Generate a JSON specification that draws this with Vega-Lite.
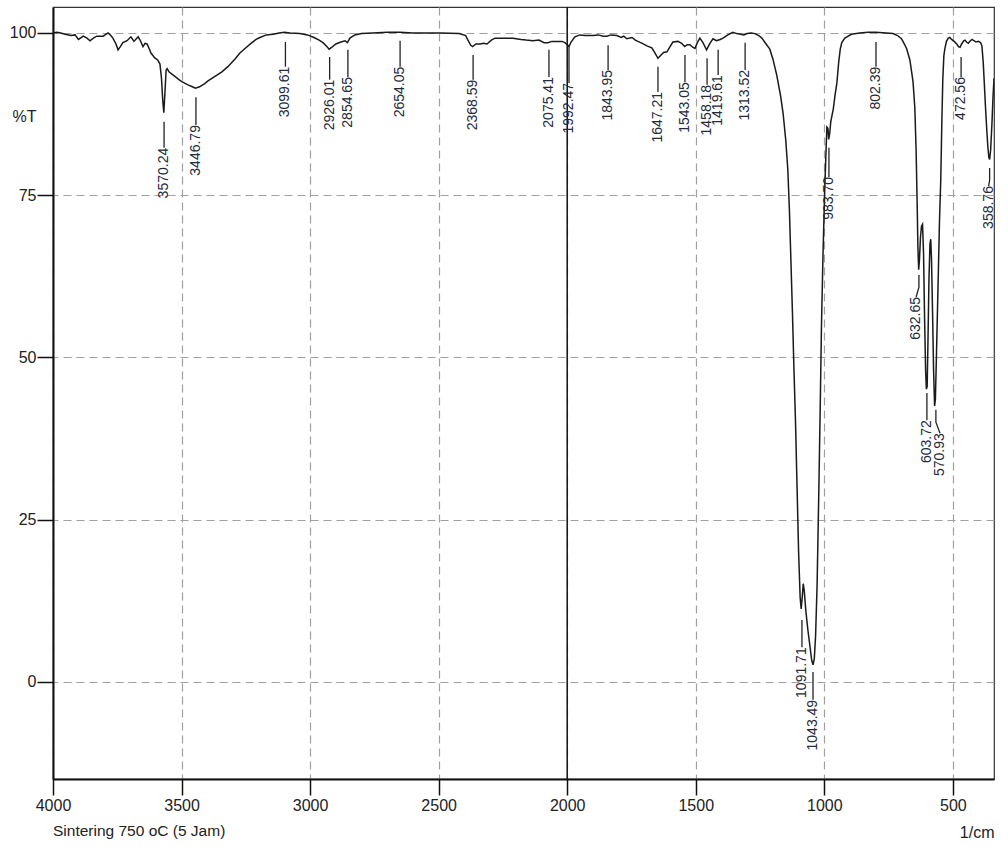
{
  "$schema": "https://vega.github.io/schema/vega-lite/v6.json",
  "width": 941,
  "height": 772,
  "autosize": "none",
  "padding": {"left": 53, "top": 7, "right": 14, "bottom": 68},
  "background": "white",
  "config": {
    "view": {"stroke": "#333333", "strokeWidth": 1.2},
    "font": "Liberation Sans"
  },
  "title": {
    "text": "Sintering 750 oC (5 Jam)",
    "orient": "bottom",
    "anchor": "start",
    "frame": "group",
    "offset": -16,
    "font": "Liberation Sans, Arial, sans-serif",
    "fontSize": 15.5,
    "fontWeight": "normal",
    "color": "#222222"
  },
  "datasets": {
    "spectrum": [
      {"wn":4000,"T":100.0},{"wn":3985,"T":100.1},{"wn":3970,"T":100.0},{"wn":3953,"T":99.8},{"wn":3930,"T":99.6},{"wn":3914,"T":99.7},{"wn":3901,"T":99.0},{"wn":3882,"T":99.5},{"wn":3868,"T":99.2},{"wn":3856,"T":98.8},{"wn":3843,"T":99.2},{"wn":3830,"T":99.5},{"wn":3805,"T":99.5},{"wn":3786,"T":100.0},{"wn":3775,"T":99.6},{"wn":3767,"T":99.2},{"wn":3755,"T":98.3},{"wn":3747,"T":97.4},{"wn":3738,"T":97.9},{"wn":3728,"T":98.5},{"wn":3712,"T":98.8},{"wn":3697,"T":99.4},{"wn":3685,"T":98.7},{"wn":3669,"T":99.4},{"wn":3660,"T":98.8},{"wn":3650,"T":97.9},{"wn":3642,"T":98.4},{"wn":3634,"T":98.3},{"wn":3625,"T":97.5},{"wn":3619,"T":96.9},{"wn":3605,"T":96.2},{"wn":3592,"T":95.8},{"wn":3584,"T":95.2},{"wn":3578,"T":93.0},{"wn":3573,"T":89.5},{"wn":3569,"T":87.7},{"wn":3565,"T":90.5},{"wn":3560,"T":94.3},{"wn":3556,"T":94.5},{"wn":3549,"T":94.0},{"wn":3526,"T":93.3},{"wn":3510,"T":92.8},{"wn":3499,"T":92.5},{"wn":3475,"T":92.0},{"wn":3458,"T":91.7},{"wn":3446,"T":91.5},{"wn":3430,"T":91.7},{"wn":3410,"T":92.2},{"wn":3397,"T":92.6},{"wn":3370,"T":93.3},{"wn":3343,"T":94.0},{"wn":3320,"T":94.8},{"wn":3292,"T":96.0},{"wn":3273,"T":96.9},{"wn":3253,"T":97.6},{"wn":3230,"T":98.4},{"wn":3210,"T":99.0},{"wn":3195,"T":99.3},{"wn":3170,"T":99.7},{"wn":3144,"T":99.8},{"wn":3120,"T":100.0},{"wn":3100,"T":100.1},{"wn":3078,"T":100.0},{"wn":3040,"T":99.9},{"wn":3010,"T":99.7},{"wn":2985,"T":99.3},{"wn":2965,"T":98.9},{"wn":2950,"T":98.5},{"wn":2935,"T":97.9},{"wn":2926,"T":97.5},{"wn":2915,"T":97.8},{"wn":2900,"T":98.3},{"wn":2880,"T":98.6},{"wn":2864,"T":98.8},{"wn":2855,"T":98.5},{"wn":2845,"T":99.2},{"wn":2826,"T":99.7},{"wn":2800,"T":99.9},{"wn":2756,"T":100.0},{"wn":2700,"T":100.1},{"wn":2651,"T":100.1},{"wn":2600,"T":100.0},{"wn":2550,"T":100.0},{"wn":2495,"T":100.0},{"wn":2420,"T":99.9},{"wn":2395,"T":99.6},{"wn":2385,"T":98.8},{"wn":2375,"T":98.1},{"wn":2368,"T":97.9},{"wn":2355,"T":98.3},{"wn":2340,"T":98.3},{"wn":2325,"T":98.4},{"wn":2312,"T":98.3},{"wn":2295,"T":98.9},{"wn":2281,"T":99.2},{"wn":2250,"T":99.2},{"wn":2211,"T":99.2},{"wn":2180,"T":99.0},{"wn":2160,"T":98.9},{"wn":2133,"T":98.8},{"wn":2110,"T":98.9},{"wn":2090,"T":98.5},{"wn":2075,"T":98.5},{"wn":2060,"T":98.7},{"wn":2040,"T":98.7},{"wn":2020,"T":98.7},{"wn":2009,"T":98.5},{"wn":2000,"T":98.2},{"wn":1993,"T":97.9},{"wn":1985,"T":98.6},{"wn":1970,"T":99.4},{"wn":1951,"T":99.7},{"wn":1930,"T":99.6},{"wn":1900,"T":99.6},{"wn":1880,"T":99.7},{"wn":1860,"T":99.5},{"wn":1846,"T":99.5},{"wn":1830,"T":99.7},{"wn":1807,"T":99.6},{"wn":1790,"T":99.3},{"wn":1780,"T":99.5},{"wn":1768,"T":99.1},{"wn":1748,"T":99.3},{"wn":1735,"T":98.9},{"wn":1725,"T":98.7},{"wn":1708,"T":98.4},{"wn":1690,"T":98.0},{"wn":1671,"T":97.7},{"wn":1660,"T":97.0},{"wn":1647,"T":96.1},{"wn":1635,"T":96.6},{"wn":1625,"T":97.0},{"wn":1612,"T":97.1},{"wn":1600,"T":97.9},{"wn":1589,"T":98.6},{"wn":1569,"T":98.7},{"wn":1555,"T":98.4},{"wn":1543,"T":97.9},{"wn":1533,"T":98.2},{"wn":1523,"T":98.2},{"wn":1512,"T":97.8},{"wn":1503,"T":97.6},{"wn":1494,"T":98.5},{"wn":1484,"T":99.2},{"wn":1472,"T":98.5},{"wn":1458,"T":97.4},{"wn":1445,"T":98.4},{"wn":1433,"T":99.1},{"wn":1420,"T":98.8},{"wn":1405,"T":99.0},{"wn":1394,"T":99.2},{"wn":1375,"T":99.7},{"wn":1356,"T":100.1},{"wn":1340,"T":99.9},{"wn":1325,"T":99.8},{"wn":1313,"T":99.7},{"wn":1300,"T":99.9},{"wn":1285,"T":100.0},{"wn":1270,"T":99.9},{"wn":1255,"T":99.6},{"wn":1243,"T":99.2},{"wn":1230,"T":98.5},{"wn":1212,"T":97.5},{"wn":1200,"T":96.0},{"wn":1185,"T":93.5},{"wn":1170,"T":90.3},{"wn":1160,"T":87.5},{"wn":1150,"T":83.5},{"wn":1142,"T":79.0},{"wn":1136,"T":73.0},{"wn":1130,"T":65.0},{"wn":1124,"T":57.0},{"wn":1118,"T":48.0},{"wn":1112,"T":40.0},{"wn":1106,"T":30.0},{"wn":1100,"T":20.0},{"wn":1094,"T":13.0},{"wn":1090,"T":11.2},{"wn":1086,"T":13.0},{"wn":1082,"T":15.1},{"wn":1078,"T":14.0},{"wn":1072,"T":11.0},{"wn":1064,"T":8.0},{"wn":1056,"T":5.5},{"wn":1049,"T":3.3},{"wn":1044,"T":2.6},{"wn":1039,"T":3.5},{"wn":1034,"T":7.0},{"wn":1028,"T":15.0},{"wn":1022,"T":28.0},{"wn":1016,"T":42.0},{"wn":1011,"T":55.0},{"wn":1005,"T":66.0},{"wn":999,"T":75.0},{"wn":994,"T":81.0},{"wn":990,"T":85.5},{"wn":986,"T":85.3},{"wn":983,"T":83.6},{"wn":979,"T":84.5},{"wn":975,"T":86.3},{"wn":970,"T":87.3},{"wn":965,"T":88.3},{"wn":958,"T":90.5},{"wn":951,"T":92.3},{"wn":944,"T":95.5},{"wn":938,"T":97.5},{"wn":932,"T":98.5},{"wn":920,"T":99.2},{"wn":912,"T":99.4},{"wn":895,"T":99.8},{"wn":862,"T":100.0},{"wn":830,"T":100.1},{"wn":800,"T":100.1},{"wn":760,"T":100.0},{"wn":733,"T":99.9},{"wn":715,"T":99.6},{"wn":700,"T":99.1},{"wn":694,"T":98.7},{"wn":680,"T":97.6},{"wn":667,"T":95.8},{"wn":655,"T":92.5},{"wn":648,"T":88.5},{"wn":643,"T":82.0},{"wn":639,"T":74.0},{"wn":636,"T":67.0},{"wn":633,"T":63.5},{"wn":630,"T":65.0},{"wn":626,"T":68.5},{"wn":622,"T":70.2},{"wn":618,"T":70.5},{"wn":614,"T":66.0},{"wn":610,"T":56.0},{"wn":606,"T":48.0},{"wn":603,"T":45.1},{"wn":600,"T":45.5},{"wn":597,"T":52.0},{"wn":593,"T":62.0},{"wn":589,"T":67.5},{"wn":586,"T":68.2},{"wn":583,"T":65.0},{"wn":579,"T":57.0},{"wn":575,"T":48.0},{"wn":571,"T":42.5},{"wn":568,"T":43.5},{"wn":564,"T":50.0},{"wn":560,"T":57.0},{"wn":556,"T":64.0},{"wn":552,"T":71.0},{"wn":547,"T":77.5},{"wn":543,"T":86.0},{"wn":539,"T":93.0},{"wn":535,"T":96.5},{"wn":531,"T":97.6},{"wn":525,"T":98.7},{"wn":518,"T":99.2},{"wn":512,"T":99.3},{"wn":505,"T":99.0},{"wn":495,"T":98.7},{"wn":485,"T":98.3},{"wn":478,"T":97.9},{"wn":472,"T":97.8},{"wn":466,"T":98.3},{"wn":458,"T":98.8},{"wn":453,"T":98.9},{"wn":447,"T":98.6},{"wn":440,"T":98.4},{"wn":432,"T":98.8},{"wn":425,"T":99.0},{"wn":418,"T":98.8},{"wn":410,"T":98.6},{"wn":400,"T":98.7},{"wn":392,"T":98.5},{"wn":387,"T":98.0},{"wn":382,"T":95.5},{"wn":378,"T":92.5},{"wn":373,"T":88.5},{"wn":368,"T":85.0},{"wn":364,"T":82.5},{"wn":360,"T":80.8},{"wn":357,"T":80.5},{"wn":353,"T":82.0},{"wn":348,"T":86.0},{"wn":344,"T":90.0},{"wn":340,"T":93.0}
    ],
    "connectors": [
      {"peak":"3570.24","seq":0,"wn":3568,"T":86.3},{"peak":"3570.24","seq":1,"wn":3568,"T":82.3},
      {"peak":"3446.79","seq":0,"wn":3444,"T":90.1},{"peak":"3446.79","seq":1,"wn":3444,"T":85.8},
      {"peak":"3099.61","seq":0,"wn":3096,"T":98.6},{"peak":"3099.61","seq":1,"wn":3096,"T":94.8},
      {"peak":"2926.01","seq":0,"wn":2924,"T":96.3},{"peak":"2926.01","seq":1,"wn":2924,"T":92.8},
      {"peak":"2854.65","seq":0,"wn":2853,"T":97.4},{"peak":"2854.65","seq":1,"wn":2853,"T":93.2},
      {"peak":"2654.05","seq":0,"wn":2650,"T":98.8},{"peak":"2654.05","seq":1,"wn":2650,"T":94.8},
      {"peak":"2368.59","seq":0,"wn":2366,"T":96.6},{"peak":"2368.59","seq":1,"wn":2366,"T":92.8},
      {"peak":"2075.41","seq":0,"wn":2071,"T":97.4},{"peak":"2075.41","seq":1,"wn":2071,"T":93.2},
      {"peak":"1992.47","seq":0,"wn":1993,"T":97.8},{"peak":"1992.47","seq":1,"wn":1993,"T":92.3},
      {"peak":"1843.95","seq":0,"wn":1841,"T":98.1},{"peak":"1843.95","seq":1,"wn":1841,"T":94.3},
      {"peak":"1647.21","seq":0,"wn":1647,"T":94.8},{"peak":"1647.21","seq":1,"wn":1647,"T":90.9},
      {"peak":"1543.05","seq":0,"wn":1542,"T":96.6},{"peak":"1543.05","seq":1,"wn":1542,"T":92.4},
      {"peak":"1458.18","seq":0,"wn":1456,"T":96.1},{"peak":"1458.18","seq":1,"wn":1456,"T":92.0},
      {"peak":"1419.61","seq":0,"wn":1413,"T":97.4},{"peak":"1419.61","seq":1,"wn":1413,"T":93.5},
      {"peak":"1313.52","seq":0,"wn":1308,"T":98.5},{"peak":"1313.52","seq":1,"wn":1308,"T":94.3},
      {"peak":"802.39","seq":0,"wn":799,"T":98.6},{"peak":"802.39","seq":1,"wn":799,"T":94.8},
      {"peak":"472.56","seq":0,"wn":468,"T":96.3},{"peak":"472.56","seq":1,"wn":468,"T":93.2},
      {"peak":"983.70","seq":0,"wn":982,"T":82.3},{"peak":"983.70","seq":1,"wn":982,"T":77.8},
      {"peak":"1091.71","seq":0,"wn":1087,"T":9.5},{"peak":"1091.71","seq":1,"wn":1087,"T":5.3},
      {"peak":"1043.49","seq":0,"wn":1044,"T":1.5},{"peak":"1043.49","seq":1,"wn":1044,"T":-2.8},
      {"peak":"632.65","seq":0,"wn":632,"T":62.7},{"peak":"632.65","seq":1,"wn":632,"T":60.8},{"peak":"632.65","seq":2,"wn":643,"T":59.3},
      {"peak":"603.72","seq":0,"wn":601,"T":44.5},{"peak":"603.72","seq":1,"wn":601,"T":40.3},
      {"peak":"570.93","seq":0,"wn":566,"T":41.9},{"peak":"570.93","seq":1,"wn":566,"T":40.0},{"peak":"570.93","seq":2,"wn":550,"T":38.3},
      {"peak":"358.76","seq":0,"wn":357,"T":79.2},{"peak":"358.76","seq":1,"wn":357,"T":77.3},{"peak":"358.76","seq":2,"wn":361,"T":76.4}
    ],
    "labels": [
      {"peak":"3570.24","wn":3568,"T":82.3},
      {"peak":"3446.79","wn":3444,"T":85.8},
      {"peak":"3099.61","wn":3096,"T":94.8},
      {"peak":"2926.01","wn":2924,"T":92.8},
      {"peak":"2854.65","wn":2853,"T":93.2},
      {"peak":"2654.05","wn":2650,"T":94.8},
      {"peak":"2368.59","wn":2366,"T":92.8},
      {"peak":"2075.41","wn":2071,"T":93.2},
      {"peak":"1992.47","wn":1993,"T":92.3},
      {"peak":"1843.95","wn":1841,"T":94.3},
      {"peak":"1647.21","wn":1647,"T":90.9},
      {"peak":"1543.05","wn":1542,"T":92.4},
      {"peak":"1458.18","wn":1456,"T":92.0},
      {"peak":"1419.61","wn":1413,"T":93.5},
      {"peak":"1313.52","wn":1308,"T":94.3},
      {"peak":"802.39","wn":799,"T":94.8},
      {"peak":"472.56","wn":468,"T":93.2},
      {"peak":"983.70","wn":982,"T":77.8},
      {"peak":"1091.71","wn":1087,"T":5.3},
      {"peak":"1043.49","wn":1044,"T":-2.8},
      {"peak":"632.65","wn":643,"T":59.3},
      {"peak":"603.72","wn":601,"T":40.3},
      {"peak":"570.93","wn":550,"T":38.3},
      {"peak":"358.76","wn":361,"T":76.4}
    ],
    "vline": [{"wn": 2000}]
  },
  "resolve": {"axis": {"x": "independent", "y": "independent"}},
  "layer": [
    {
      "data": {"name": "spectrum"},
      "mark": {"type": "line", "color": "#1a1a1a", "strokeWidth": 1.5, "clip": true},
      "encoding": {
        "x": {
          "field": "wn", "type": "quantitative",
          "scale": {"domain": [340, 4000], "reverse": true, "nice": false, "zero": false},
          "axis": {
            "orient": "bottom",
            "values": [4000, 3500, 3000, 2500, 2000, 1500, 1000, 500],
            "format": "d",
            "tickSize": 16, "tickColor": "#111111", "tickWidth": 1.5,
            "labelFont": "Liberation Sans, Arial, sans-serif",
            "labelFontSize": 16, "labelColor": "#222222", "labelPadding": 2,
            "labelFlush": false, "labelOverlap": false,
            "grid": true, "gridDash": [8, 5], "gridColor": "#a0a0a0", "gridWidth": 1.2,
            "domain": true, "domainColor": "#111111", "domainWidth": 2,
            "title": "1/cm", "titleAnchor": "end", "titleAlign": "right",
            "titleX": 941, "titleY": 58, "titleBaseline": "alphabetic",
            "titleFont": "Liberation Sans, Arial, sans-serif",
            "titleFontSize": 16, "titleFontWeight": "normal", "titleColor": "#222222"
          }
        },
        "y": {
          "field": "T", "type": "quantitative",
          "scale": {"domain": [-15, 104], "nice": false, "zero": false},
          "axis": {
            "orient": "left",
            "values": [0, 25, 50, 75, 100],
            "tickSize": 16, "tickColor": "#111111", "tickWidth": 1.5,
            "labelFont": "Liberation Sans, Arial, sans-serif",
            "labelFontSize": 16, "labelColor": "#222222", "labelPadding": 1,
            "labelFlush": false, "labelOverlap": false,
            "grid": true, "gridDash": [8, 5], "gridColor": "#a0a0a0", "gridWidth": 1.2,
            "domain": true, "domainColor": "#111111", "domainWidth": 2,
            "title": "%T", "titleAngle": 0, "titleAlign": "left", "titleBaseline": "middle",
            "titleX": -41, "titleY": 109,
            "titleFont": "Liberation Sans, Arial, sans-serif",
            "titleFontSize": 16, "titleFontWeight": "normal", "titleColor": "#222222"
          }
        }
      }
    },
    {
      "layer": [
        {
          "data": {"name": "vline"},
          "mark": {"type": "rule", "color": "#111111", "strokeWidth": 1.5},
          "encoding": {
            "x": {"field": "wn", "type": "quantitative", "scale": {"domain": [340, 4000], "reverse": true, "nice": false, "zero": false}, "axis": null}
          }
        },
        {
          "data": {"name": "connectors"},
          "mark": {"type": "line", "color": "#222222", "strokeWidth": 1.3},
          "encoding": {
            "x": {
              "field": "wn", "type": "quantitative",
              "scale": {"domain": [340, 4000], "reverse": true, "nice": false, "zero": false},
              "axis": {
                "orient": "bottom",
                "values": [400,500,600,700,800,900,1000,1100,1200,1300,1400,1500,1600,1700,1800,1900,2000,2100,2200,2300,2400,2500,2600,2700,2800,2900,3000,3100,3200,3300,3400,3500,3600,3700,3800,3900,4000],
                "tickSize": 8, "tickColor": "#333333", "tickWidth": 1.5,
                "labels": false, "grid": false, "domain": false, "title": null
              }
            },
            "y": {
              "field": "T", "type": "quantitative",
              "scale": {"domain": [-15, 104], "nice": false, "zero": false},
              "axis": {
                "orient": "left",
                "values": [-15,-10,-5,0,5,10,15,20,25,30,35,40,45,50,55,60,65,70,75,80,85,90,95,100],
                "tickSize": 8, "tickColor": "#333333", "tickWidth": 1.5,
                "labels": false, "grid": false, "domain": false, "title": null
              }
            },
            "detail": {"field": "peak", "type": "nominal"},
            "order": {"field": "seq", "type": "quantitative"}
          }
        },
        {
          "data": {"name": "labels"},
          "mark": {
            "type": "text", "angle": 270, "align": "right", "baseline": "middle",
            "font": "Liberation Sans, Arial, sans-serif", "fontSize": 14, "color": "#232a3a"
          },
          "encoding": {
            "x": {"field": "wn", "type": "quantitative", "scale": {"domain": [340, 4000], "reverse": true, "nice": false, "zero": false}, "axis": null},
            "y": {"field": "T", "type": "quantitative", "scale": {"domain": [-15, 104], "nice": false, "zero": false}, "axis": null},
            "text": {"field": "peak", "type": "nominal"}
          }
        }
      ]
    }
  ]
}
